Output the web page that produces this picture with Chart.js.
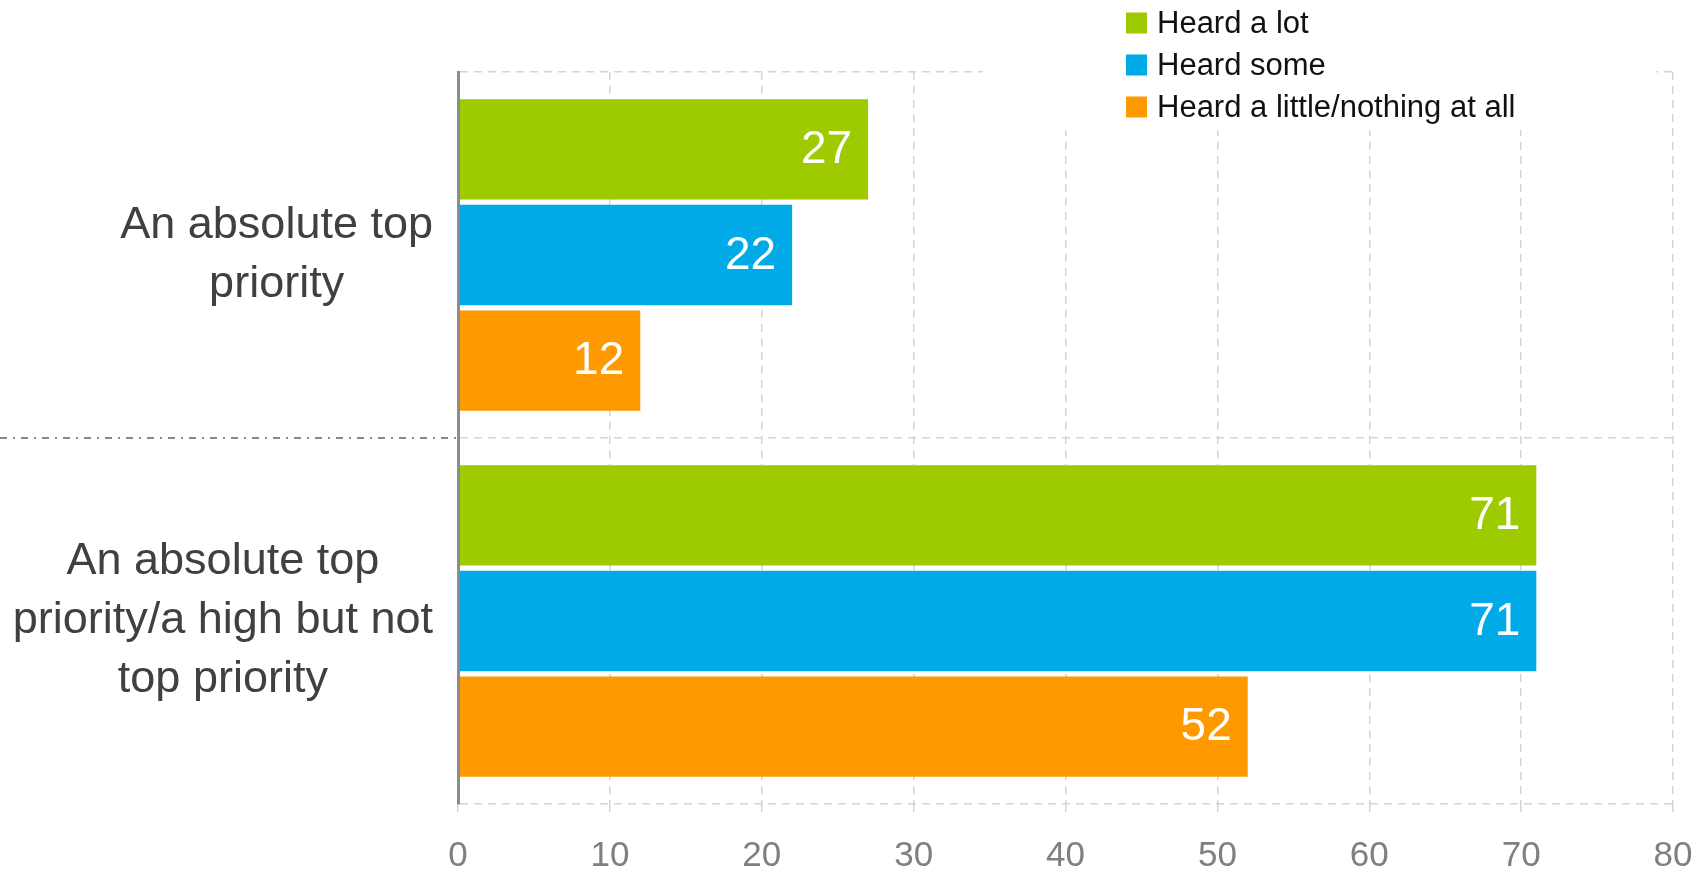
<!DOCTYPE html>
<html>
<head>
<meta charset="utf-8">
<title>Priority by how much heard</title>
<script src="https://cdn.jsdelivr.net/npm/chart.js@4/dist/chart.umd.min.js"></script>
<style>
    html, body {
        margin: 0;
        padding: 0;
        background: #ffffff;
    }
    #wrap {
        width: 1703px;
        height: 873px;
    }
</style>
</head>
<body>
<div id="wrap"><canvas id="priority-chart"></canvas></div>
<script>
// categories (one entry per line of the label)
const categories = [
    ["An absolute top", "priority"],
    ["An absolute top", "priority/a high but not", "top priority"],
];
const seriesNames = ["Heard a lot", "Heard some", "Heard a little/nothing at all"];
const heardALot = [27, 71];
const heardSome = [22, 71];
const heardLittle = [12, 52];
const seriesColors = ["#9dcb00", "#00aae7", "#ff9900"];
const xMin = 0;
const xMax = 80;
const xStep = 10;

const FONT = "'Liberation Sans', Arial, sans-serif";

// category labels: block right aligned next to the axis, lines centred in the block
const categoryLabels = {
    id: "categoryLabels",
    afterDraw(chart) {
        let scale = chart.scales.y;
        let ctx = chart.ctx;
        let lineHeight = 59;
        ctx.save();
        ctx.font = "45px " + FONT;
        ctx.fillStyle = "#404040";
        ctx.textAlign = "center";
        ctx.textBaseline = "middle";
        categories.forEach(function (lines, i) {
            let y = scale.getPixelForValue(i);
            let widest = 0;
            for (let line of lines) {
                widest = Math.max(widest, ctx.measureText(line).width);
            }
            let cx = scale.right - 25 - widest / 2;
            let y0 = y - ((lines.length - 1) * lineHeight) / 2;
            lines.forEach(function (line, k) {
                ctx.fillText(line, cx, y0 + k * lineHeight);
            });
        });
        ctx.restore();
    },
};

// dash-dot separator between the two groups, left of the axis
const groupSeparator = {
    id: "groupSeparator",
    afterDraw(chart) {
        let scale = chart.scales.y;
        let ctx = chart.ctx;
        for (let i = 0; i < categories.length - 1; i++) {
            let y = (scale.getPixelForValue(i) + scale.getPixelForValue(i + 1)) / 2;
            ctx.save();
            ctx.strokeStyle = "#888888";
            ctx.lineWidth = 2;
            ctx.setLineDash([7, 6, 2, 6]);
            ctx.beginPath();
            ctx.moveTo(0, y);
            ctx.lineTo(chart.chartArea.left - 2, y);
            ctx.stroke();
            ctx.restore();
        }
    },
};

// values written in white at the end of each bar
const barValues = {
    id: "barValues",
    afterDatasetsDraw(chart) {
        let ctx = chart.ctx;
        ctx.save();
        ctx.font = "46px " + FONT;
        ctx.fillStyle = "#ffffff";
        ctx.textAlign = "right";
        ctx.textBaseline = "middle";
        chart.data.datasets.forEach(function (ds, d) {
            chart.getDatasetMeta(d).data.forEach(function (bar, i) {
                ctx.fillText(String(ds.data[i]), bar.x - 16, bar.y + 1);
            });
        });
        ctx.restore();
    },
};

// legend box in the top right corner, stacked vertically
const stackedLegend = {
    id: "stackedLegend",
    afterDraw(chart) {
        let ctx = chart.ctx;
        ctx.save();
        ctx.fillStyle = "#ffffff";
        ctx.fillRect(983, 0, 673, 130);
        ctx.font = "31px " + FONT;
        ctx.textAlign = "left";
        ctx.textBaseline = "middle";
        chart.data.datasets.forEach(function (ds, d) {
            let cy = 23 + d * 42;
            ctx.fillStyle = ds.backgroundColor;
            ctx.fillRect(1126, cy - 10.5, 21, 21);
            ctx.fillStyle = "#111111";
            ctx.fillText(ds.label, 1157, cy + 1);
        });
        ctx.restore();
    },
};

function getDatasets() {
    let values = [heardALot, heardSome, heardLittle];
    return values.map(function (data, i) {
        return {
            label: seriesNames[i],
            data: data,
            backgroundColor: seriesColors[i],
            borderWidth: 0,
            categoryPercentage: 0.866,
            barPercentage: 0.949,
        };
    });
}

new Chart(document.getElementById("priority-chart"), {
    type: "bar",
    data: {
        labels: categories.map(function (c) { return c.join(" "); }),
        datasets: getDatasets(),
    },
    plugins: [categoryLabels, groupSeparator, barValues, stackedLegend],
    options: {
        indexAxis: "y",
        responsive: true,
        maintainAspectRatio: false,
        animation: false,
        layout: {
            padding: { top: 72, right: 30, bottom: 0, left: 0 },
        },
        plugins: {
            legend: { display: false },
            tooltip: { enabled: false },
        },
        scales: {
            x: {
                min: xMin,
                max: xMax,
                ticks: {
                    stepSize: xStep,
                    color: "#808080",
                    padding: 23,
                    font: { family: FONT, size: 35, lineHeight: 1 },
                },
                grid: {
                    color: "#d4d4d4",
                    lineWidth: 1.5,
                    tickLength: 12,
                    tickColor: "#d4d4d4",
                    tickWidth: 1.5,
                    tickBorderDash: [8, 6],
                },
                border: { display: false, dash: [8, 6] },
                afterFit: function (scale) {
                    scale.height = 69;
                    // the "80" label may run into the right margin
                    scale.paddingRight = 0;
                },
            },
            y: {
                ticks: { display: false },
                grid: {
                    color: "#d4d4d4",
                    lineWidth: 1.5,
                    drawTicks: false,
                },
                border: { display: true, color: "#8c8c8c", width: 3, dash: [8, 6], z: 1 },
                afterFit: function (scale) {
                    scale.width = 458;
                },
            },
        },
    },
});
</script>
</body>
</html>
